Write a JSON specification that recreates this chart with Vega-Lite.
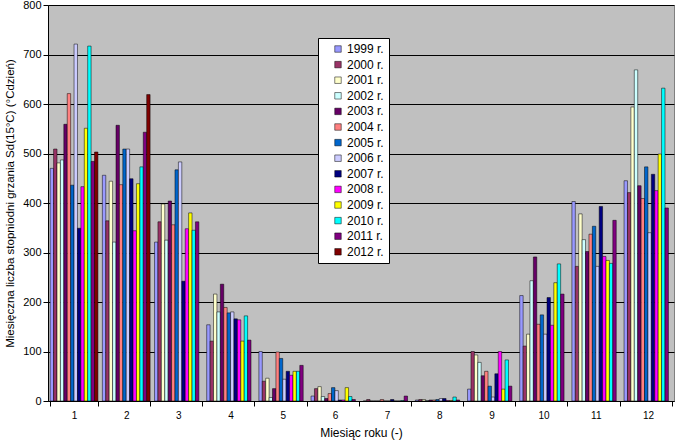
{
  "$schema": "https://vega.github.io/schema/vega-lite/v6.json",
  "width": 626,
  "height": 396,
  "autosize": {"type": "none"},
  "padding": {"left": 48, "top": 5, "right": 4, "bottom": 40},
  "background": "white",
  "datasets": {
    "sd": [
      {"m": 1, "rok": "1999 r.", "v": 470}, {"m": 1, "rok": "2000 r.", "v": 509}, {"m": 1, "rok": "2001 r.", "v": 481}, {"m": 1, "rok": "2002 r.", "v": 487},
      {"m": 1, "rok": "2003 r.", "v": 559}, {"m": 1, "rok": "2004 r.", "v": 621}, {"m": 1, "rok": "2005 r.", "v": 436}, {"m": 1, "rok": "2006 r.", "v": 721},
      {"m": 1, "rok": "2007 r.", "v": 349}, {"m": 1, "rok": "2008 r.", "v": 433}, {"m": 1, "rok": "2009 r.", "v": 551}, {"m": 1, "rok": "2010 r.", "v": 717},
      {"m": 1, "rok": "2011 r.", "v": 484}, {"m": 1, "rok": "2012 r.", "v": 503},
      {"m": 2, "rok": "1999 r.", "v": 456}, {"m": 2, "rok": "2000 r.", "v": 364}, {"m": 2, "rok": "2001 r.", "v": 444}, {"m": 2, "rok": "2002 r.", "v": 321},
      {"m": 2, "rok": "2003 r.", "v": 557}, {"m": 2, "rok": "2004 r.", "v": 437}, {"m": 2, "rok": "2005 r.", "v": 509}, {"m": 2, "rok": "2006 r.", "v": 509},
      {"m": 2, "rok": "2007 r.", "v": 449}, {"m": 2, "rok": "2008 r.", "v": 344}, {"m": 2, "rok": "2009 r.", "v": 439}, {"m": 2, "rok": "2010 r.", "v": 473},
      {"m": 2, "rok": "2011 r.", "v": 543}, {"m": 2, "rok": "2012 r.", "v": 619},
      {"m": 3, "rok": "1999 r.", "v": 321}, {"m": 3, "rok": "2000 r.", "v": 362}, {"m": 3, "rok": "2001 r.", "v": 398}, {"m": 3, "rok": "2002 r.", "v": 325},
      {"m": 3, "rok": "2003 r.", "v": 404}, {"m": 3, "rok": "2004 r.", "v": 356}, {"m": 3, "rok": "2005 r.", "v": 467}, {"m": 3, "rok": "2006 r.", "v": 483},
      {"m": 3, "rok": "2007 r.", "v": 242}, {"m": 3, "rok": "2008 r.", "v": 348}, {"m": 3, "rok": "2009 r.", "v": 380}, {"m": 3, "rok": "2010 r.", "v": 345},
      {"m": 3, "rok": "2011 r.", "v": 362},
      {"m": 4, "rok": "1999 r.", "v": 154}, {"m": 4, "rok": "2000 r.", "v": 121}, {"m": 4, "rok": "2001 r.", "v": 216}, {"m": 4, "rok": "2002 r.", "v": 180},
      {"m": 4, "rok": "2003 r.", "v": 236}, {"m": 4, "rok": "2004 r.", "v": 189}, {"m": 4, "rok": "2005 r.", "v": 178}, {"m": 4, "rok": "2006 r.", "v": 180},
      {"m": 4, "rok": "2007 r.", "v": 166}, {"m": 4, "rok": "2008 r.", "v": 164}, {"m": 4, "rok": "2009 r.", "v": 121}, {"m": 4, "rok": "2010 r.", "v": 172},
      {"m": 4, "rok": "2011 r.", "v": 123},
      {"m": 5, "rok": "1999 r.", "v": 100}, {"m": 5, "rok": "2000 r.", "v": 40}, {"m": 5, "rok": "2001 r.", "v": 46}, {"m": 5, "rok": "2002 r.", "v": 7},
      {"m": 5, "rok": "2003 r.", "v": 25}, {"m": 5, "rok": "2004 r.", "v": 99}, {"m": 5, "rok": "2005 r.", "v": 86}, {"m": 5, "rok": "2006 r.", "v": 44},
      {"m": 5, "rok": "2007 r.", "v": 60}, {"m": 5, "rok": "2008 r.", "v": 52}, {"m": 5, "rok": "2009 r.", "v": 60}, {"m": 5, "rok": "2010 r.", "v": 60},
      {"m": 5, "rok": "2011 r.", "v": 72},
      {"m": 6, "rok": "1999 r.", "v": 10}, {"m": 6, "rok": "2000 r.", "v": 25}, {"m": 6, "rok": "2001 r.", "v": 29}, {"m": 6, "rok": "2002 r.", "v": 9},
      {"m": 6, "rok": "2003 r.", "v": 5}, {"m": 6, "rok": "2004 r.", "v": 15}, {"m": 6, "rok": "2005 r.", "v": 27}, {"m": 6, "rok": "2006 r.", "v": 21},
      {"m": 6, "rok": "2007 r.", "v": 2}, {"m": 6, "rok": "2008 r.", "v": 2}, {"m": 6, "rok": "2009 r.", "v": 27}, {"m": 6, "rok": "2010 r.", "v": 9},
      {"m": 6, "rok": "2011 r.", "v": 3},
      {"m": 7, "rok": "1999 r.", "v": 0}, {"m": 7, "rok": "2000 r.", "v": 3}, {"m": 7, "rok": "2001 r.", "v": 0}, {"m": 7, "rok": "2002 r.", "v": 0},
      {"m": 7, "rok": "2003 r.", "v": 0}, {"m": 7, "rok": "2004 r.", "v": 3}, {"m": 7, "rok": "2005 r.", "v": 0}, {"m": 7, "rok": "2006 r.", "v": 0},
      {"m": 7, "rok": "2007 r.", "v": 3}, {"m": 7, "rok": "2008 r.", "v": 0}, {"m": 7, "rok": "2009 r.", "v": 0}, {"m": 7, "rok": "2010 r.", "v": 1},
      {"m": 7, "rok": "2011 r.", "v": 10},
      {"m": 8, "rok": "1999 r.", "v": 2}, {"m": 8, "rok": "2000 r.", "v": 3}, {"m": 8, "rok": "2001 r.", "v": 3}, {"m": 8, "rok": "2002 r.", "v": 1},
      {"m": 8, "rok": "2003 r.", "v": 2}, {"m": 8, "rok": "2004 r.", "v": 2}, {"m": 8, "rok": "2005 r.", "v": 3}, {"m": 8, "rok": "2006 r.", "v": 5},
      {"m": 8, "rok": "2007 r.", "v": 5}, {"m": 8, "rok": "2008 r.", "v": 1}, {"m": 8, "rok": "2009 r.", "v": 1}, {"m": 8, "rok": "2010 r.", "v": 8},
      {"m": 8, "rok": "2011 r.", "v": 2},
      {"m": 9, "rok": "1999 r.", "v": 24}, {"m": 9, "rok": "2000 r.", "v": 100}, {"m": 9, "rok": "2001 r.", "v": 93}, {"m": 9, "rok": "2002 r.", "v": 78},
      {"m": 9, "rok": "2003 r.", "v": 51}, {"m": 9, "rok": "2004 r.", "v": 60}, {"m": 9, "rok": "2005 r.", "v": 30}, {"m": 9, "rok": "2006 r.", "v": 8},
      {"m": 9, "rok": "2007 r.", "v": 55}, {"m": 9, "rok": "2008 r.", "v": 100}, {"m": 9, "rok": "2009 r.", "v": 24}, {"m": 9, "rok": "2010 r.", "v": 83},
      {"m": 9, "rok": "2011 r.", "v": 30},
      {"m": 10, "rok": "1999 r.", "v": 213}, {"m": 10, "rok": "2000 r.", "v": 111}, {"m": 10, "rok": "2001 r.", "v": 135}, {"m": 10, "rok": "2002 r.", "v": 243},
      {"m": 10, "rok": "2003 r.", "v": 291}, {"m": 10, "rok": "2004 r.", "v": 155}, {"m": 10, "rok": "2005 r.", "v": 174}, {"m": 10, "rok": "2006 r.", "v": 135},
      {"m": 10, "rok": "2007 r.", "v": 209}, {"m": 10, "rok": "2008 r.", "v": 153}, {"m": 10, "rok": "2009 r.", "v": 239}, {"m": 10, "rok": "2010 r.", "v": 277},
      {"m": 10, "rok": "2011 r.", "v": 216},
      {"m": 11, "rok": "1999 r.", "v": 403}, {"m": 11, "rok": "2000 r.", "v": 272}, {"m": 11, "rok": "2001 r.", "v": 378}, {"m": 11, "rok": "2002 r.", "v": 326},
      {"m": 11, "rok": "2003 r.", "v": 302}, {"m": 11, "rok": "2004 r.", "v": 337}, {"m": 11, "rok": "2005 r.", "v": 353}, {"m": 11, "rok": "2006 r.", "v": 272},
      {"m": 11, "rok": "2007 r.", "v": 393}, {"m": 11, "rok": "2008 r.", "v": 292}, {"m": 11, "rok": "2009 r.", "v": 284}, {"m": 11, "rok": "2010 r.", "v": 278},
      {"m": 11, "rok": "2011 r.", "v": 365},
      {"m": 12, "rok": "1999 r.", "v": 445}, {"m": 12, "rok": "2000 r.", "v": 421}, {"m": 12, "rok": "2001 r.", "v": 594}, {"m": 12, "rok": "2002 r.", "v": 669},
      {"m": 12, "rok": "2003 r.", "v": 435}, {"m": 12, "rok": "2004 r.", "v": 409}, {"m": 12, "rok": "2005 r.", "v": 473}, {"m": 12, "rok": "2006 r.", "v": 340},
      {"m": 12, "rok": "2007 r.", "v": 458}, {"m": 12, "rok": "2008 r.", "v": 425}, {"m": 12, "rok": "2009 r.", "v": 499}, {"m": 12, "rok": "2010 r.", "v": 632},
      {"m": 12, "rok": "2011 r.", "v": 390}
    ]
  },
  "data": {"name": "sd"},
  "mark": {"type": "bar", "stroke": "black", "strokeWidth": 0.5},
  "encoding": {
    "x": {
      "field": "m",
      "type": "ordinal",
      "scale": {"paddingInner": 0.085, "paddingOuter": 0.042},
      "axis": {
        "title": "Miesiąc roku (-)",
        "labelAngle": 0,
        "tickBand": "extent",
        "tickSize": 5,
        "labelPadding": 4,
        "labelFontSize": 10,
        "titleFontSize": 12,
        "titlePadding": 7
      }
    },
    "xOffset": {
      "field": "rok",
      "type": "nominal",
      "scale": {"paddingInner": 0}
    },
    "y": {
      "field": "v",
      "type": "quantitative",
      "scale": {"domain": [0, 800], "nice": false},
      "axis": {
        "title": "Miesięczna liczba stopniodni grzania Sd(15°C) (°Cdzień)",
        "values": [0, 100, 200, 300, 400, 500, 600, 700, 800],
        "grid": true,
        "gridColor": "black",
        "gridOpacity": 1,
        "gridWidth": 1,
        "tickSize": 5,
        "labelPadding": 2,
        "labelFontSize": 11,
        "titleFontSize": 11.5,
        "titlePadding": 7
      }
    },
    "color": {
      "field": "rok",
      "type": "nominal",
      "scale": {
        "domain": ["1999 r.", "2000 r.", "2001 r.", "2002 r.", "2003 r.", "2004 r.", "2005 r.", "2006 r.", "2007 r.", "2008 r.", "2009 r.", "2010 r.", "2011 r.", "2012 r."],
        "range": ["#9999FF", "#993366", "#FFFFCC", "#CCFFFF", "#660066", "#FF8080", "#0066CC", "#CCCCFF", "#000080", "#FF00FF", "#FFFF00", "#00FFFF", "#800080", "#800000"]
      },
      "legend": {
        "title": null,
        "orient": "none",
        "legendX": 270,
        "legendY": 33,
        "fillColor": "white",
        "strokeColor": "black",
        "padding": 5,
        "symbolOffset": 9,
        "symbolType": "square",
        "symbolSize": 42,
        "symbolStrokeColor": "black",
        "symbolStrokeWidth": 0.5,
        "labelFontSize": 12,
        "labelOffset": 3,
        "labelColor": "black",
        "rowPadding": 3.6
      }
    }
  },
  "config": {
    "font": "Liberation Sans",
    "view": {"fill": "#C0C0C0", "stroke": "#808080", "strokeWidth": 1},
    "axis": {
      "domainColor": "black",
      "tickColor": "black",
      "labelColor": "black",
      "titleColor": "black",
      "titleFontWeight": "normal",
      "labelFont": "Liberation Sans",
      "titleFont": "Liberation Sans"
    },
    "legend": {"labelFont": "Liberation Sans"}
  }
}
